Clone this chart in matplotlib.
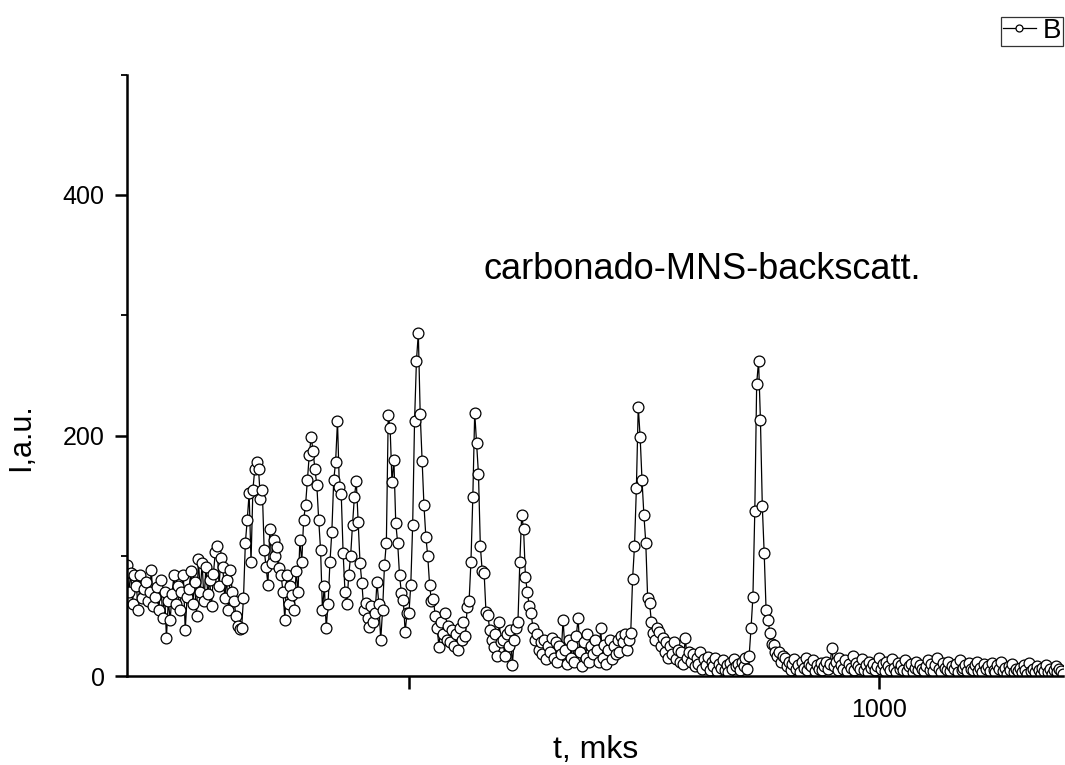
import matplotlib.pyplot as plt
import numpy as np

plt.rcParams['font.family'] = ['Liberation Sans', 'DejaVu Sans']

# sampling grid of the time axis (mks)
t_start = 200
t_step = 2

# intensity, a.u., 25 samples (50 mks) per row
intensity = [
    92, 70, 86, 60, 84, 75, 55, 84, 65, 72, 78, 62, 70, 88, 58, 66, 74, 55, 80, 48, 70, 32, 62, 47, 68,
    84, 60, 75, 55, 70, 84, 38, 66, 72, 87, 60, 78, 50, 97, 70, 94, 62, 91, 68, 80, 58, 85, 103, 108, 75,
    98, 91, 65, 80, 55, 88, 70, 62, 50, 42, 39, 40, 65, 111, 130, 152, 95, 155, 172, 178, 172, 147, 155, 105, 91,
    76, 122, 94, 113, 100, 107, 90, 84, 70, 47, 84, 60, 75, 67, 55, 87, 70, 113, 95, 130, 142, 163, 184, 199, 187,
    172, 159, 130, 105, 55, 75, 40, 60, 95, 120, 163, 178, 212, 157, 151, 102, 70, 60, 84, 100, 126, 149, 162, 128, 94,
    77, 55, 61, 48, 41, 58, 45, 52, 78, 60, 30, 55, 92, 111, 217, 206, 161, 180, 127, 111, 84, 69, 63, 37, 52,
    52, 76, 126, 212, 262, 285, 218, 179, 142, 116, 100, 76, 62, 64, 50, 40, 24, 45, 35, 52, 30, 42, 28, 38, 25,
    35, 22, 40, 30, 45, 33, 57, 62, 95, 149, 219, 194, 168, 108, 87, 86, 53, 51, 38, 30, 24, 35, 17, 45, 28,
    30, 17, 35, 25, 38, 9, 30, 40, 45, 95, 134, 122, 82, 70, 58, 52, 40, 30, 35, 22, 28, 18, 30, 14, 25,
    20, 32, 15, 28, 12, 25, 18, 47, 22, 10, 30, 15, 26, 12, 33, 48, 20, 8, 28, 15, 35, 12, 25, 18, 30,
    22, 12, 40, 15, 26, 10, 22, 30, 14, 25, 18, 30, 20, 33, 28, 35, 22, 30, 36, 81, 108, 156, 224, 199, 163,
    134, 111, 65, 61, 45, 36, 30, 40, 37, 25, 32, 20, 28, 15, 25, 18, 28, 14, 22, 12, 20, 10, 32, 15, 20,
    12, 18, 8, 15, 10, 20, 6, 14, 9, 16, 5, 12, 8, 15, 4, 10, 7, 13, 5, 9, 3, 11, 6, 14, 8,
    10, 5, 12, 8, 15, 6, 17, 40, 66, 137, 243, 262, 213, 141, 102, 55, 47, 36, 27, 26, 20, 17, 20, 12, 17,
    15, 8, 12, 5, 10, 14, 6, 9, 3, 12, 7, 15, 5, 10, 8, 13, 4, 9, 6, 11, 5, 8, 12, 6, 10,
    23, 8, 12, 5, 15, 9, 6, 13, 4, 10, 7, 17, 5, 11, 8, 6, 14, 5, 9, 3, 12, 7, 10, 5, 8,
    15, 6, 10, 4, 12, 8, 5, 14, 7, 3, 11, 6, 9, 5, 13, 4, 8, 10, 3, 7, 12, 5, 9, 6, 4,
    8, 13, 5, 10, 4, 9, 15, 6, 3, 11, 7, 5, 12, 4, 8, 6, 10, 3, 13, 5, 7, 9, 4, 11, 6,
    5, 9, 12, 4, 7, 3, 10, 6, 8, 4, 11, 5, 3, 9, 6, 12, 4, 7, 2, 8, 5, 10, 3, 6, 4,
    7, 3, 9, 5, 2, 11, 4, 6, 3, 8, 5, 2, 7, 4, 9, 3, 6, 2, 5, 8, 3, 6, 4, 2,
]
t = t_start + t_step * np.arange(len(intensity))

x_ticks = [500, 1000]
x_tick_labels = ['', '1000']
y_ticks = [0, 200, 400]
y_minor = [100, 300, 500]

fig = plt.figure(figsize=(10.65, 7.65), dpi=100)
ax = fig.add_axes([0.1192, 0.1163, 0.879, 0.786])

line, = ax.plot(t, intensity, color='black', lw=0.9, marker='o', ms=7.8,
                mfc='white', mec='black', mew=0.9, label='B')

ax.set_xlim(200, 1196)
ax.set_ylim(0, 500)
ax.set_xticks(x_ticks)
ax.set_xticklabels(x_tick_labels)
ax.set_yticks(y_ticks)
ax.set_yticks(y_minor, minor=True)
ax.tick_params(axis='both', which='major', direction='out', length=9, width=1.8,
               labelsize=18, pad=7)
ax.tick_params(axis='both', which='minor', direction='out', length=4.5, width=1.3)

ax.spines['right'].set_color('none')
ax.spines['top'].set_color('none')
ax.spines['left'].set_linewidth(1.8)
ax.spines['bottom'].set_linewidth(1.8)

ax.set_xlabel('t, mks', fontsize=23)
ax.xaxis.set_label_coords(0.501, -0.098)
ax.set_ylabel('I,a.u.', fontsize=22)
ax.yaxis.set_label_coords(-0.097, 0.398)

ax.text(0.381, 0.676, 'carbonado-MNS-backscatt.', transform=ax.transAxes,
        fontsize=26, ha='left', va='center')

leg = fig.legend(handles=[line], loc='upper right', bbox_to_anchor=(0.998, 0.978),
                 fontsize=20, frameon=True, fancybox=False, handlelength=1.2,
                 handletextpad=0.25, borderpad=0.05, borderaxespad=0)
leg.get_frame().set_edgecolor('black')
leg.get_frame().set_linewidth(0.9)
for h in leg.legend_handles:
    h.set_markersize(5)

fig.savefig('out.png', dpi=100)
